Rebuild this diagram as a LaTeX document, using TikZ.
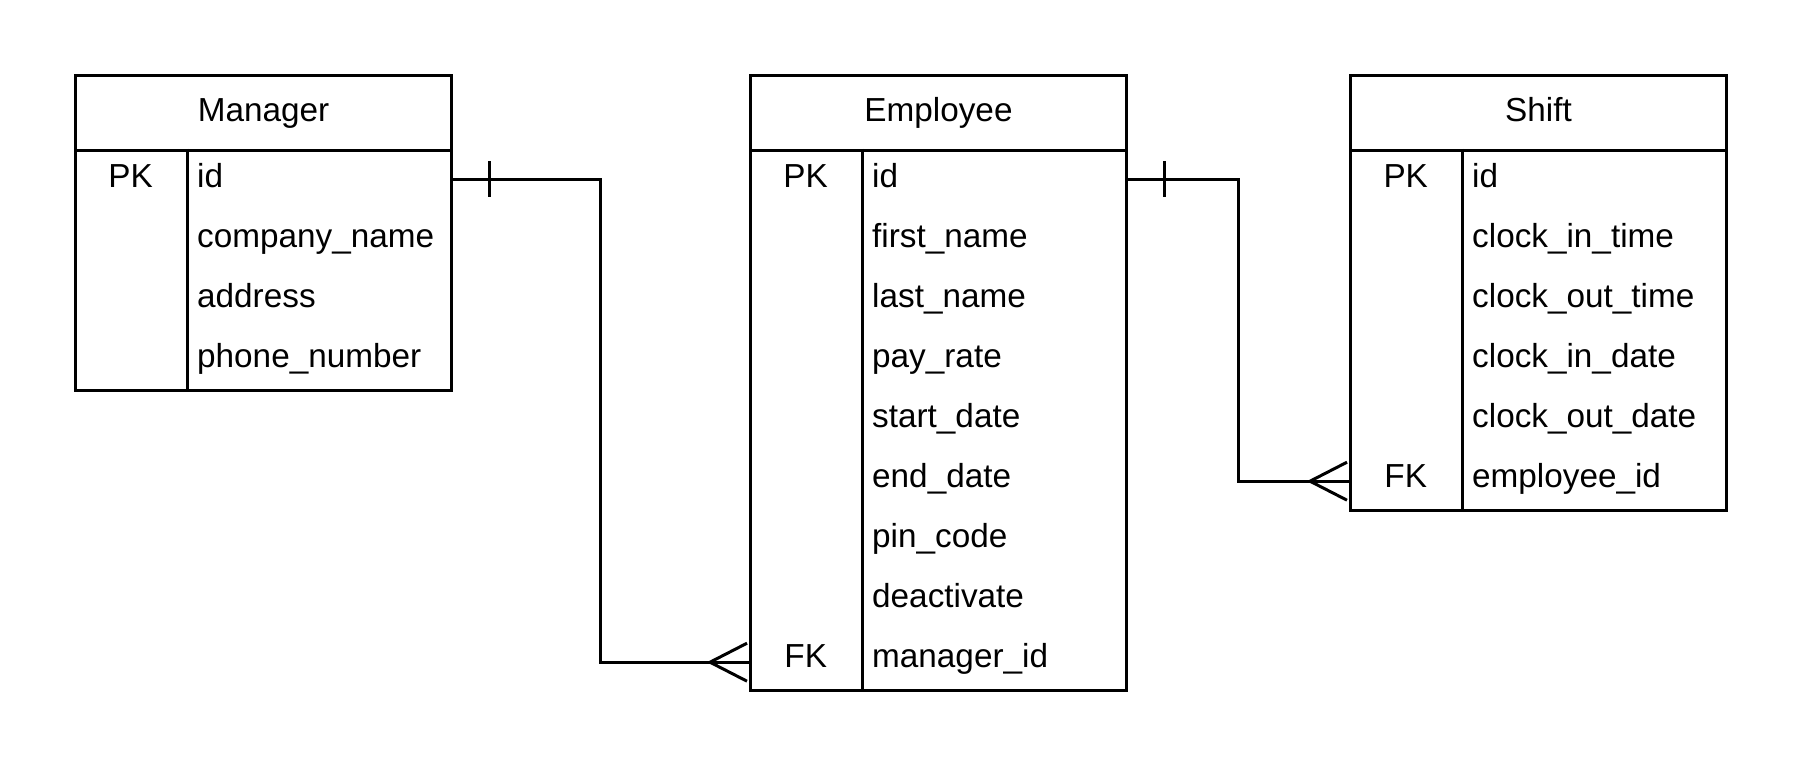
\documentclass[tikz,border=0pt]{standalone}
\usepackage{fontspec}
\setmainfont{Liberation Sans}
\newcommand\erfont{\fontsize{33.3}{40}\selectfont}
\begin{document}
\begin{tikzpicture}[x=1pt,y=-1pt,
  tbl/.style={draw, line width=3pt, minimum width=376pt, anchor=north west, inner sep=0pt, text height=25pt, text depth=7pt, font=\erfont},
  fld/.style={anchor=north west, minimum height=60pt, text width=243pt, inner xsep=10pt, inner ysep=0pt, align=left, text height=25pt, text depth=8pt, font=\erfont},
  keycell/.style={anchor=north west, minimum height=60pt, minimum width=113pt, inner sep=0pt, text height=25pt, text depth=8pt, font=\erfont},
  rel/.style={draw, line width=3pt}]
\useasboundingbox (0,0) rectangle (1800,765);

% Manager
\node[tbl, minimum height=75pt] (mgr-h) at (74,74) {Manager};
\node[tbl, minimum height=240pt] (mgr-b) at (74,149) {};
\draw[line width=3pt] ([xshift=113pt]mgr-b.north west) -- ([xshift=113pt]mgr-b.south west);
\foreach \t [count=\i] in {id,company\_name,address,phone\_number}
  \node[fld] (mgr-f\i) at (187,{149+60*(\i-1)}) {\t};
\node[keycell] (mgr-k1) at (74,149) {PK};

% Employee
\node[tbl, minimum height=75pt] (emp-h) at (749,74) {Employee};
\node[tbl, minimum height=540pt] (emp-b) at (749,149) {};
\draw[line width=3pt] ([xshift=113pt]emp-b.north west) -- ([xshift=113pt]emp-b.south west);
\foreach \t [count=\i] in {id,first\_name,last\_name,pay\_rate,start\_date,end\_date,pin\_code,deactivate,manager\_id}
  \node[fld] (emp-f\i) at (862,{149+60*(\i-1)}) {\t};
\node[keycell] (emp-k1) at (749,149) {PK};
\node[keycell] (emp-k9) at (749,629) {FK};

% Shift
\node[tbl, minimum height=75pt] (sh-h) at (1349,74) {Shift};
\node[tbl, minimum height=360pt] (sh-b) at (1349,149) {};
\draw[line width=3pt] ([xshift=113pt]sh-b.north west) -- ([xshift=113pt]sh-b.south west);
\foreach \t [count=\i] in {id,clock\_in\_time,clock\_out\_time,clock\_in\_date,clock\_out\_date,employee\_id}
  \node[fld] (sh-f\i) at (1462,{149+60*(\i-1)}) {\t};
\node[keycell] (sh-k1) at (1349,149) {PK};
\node[keycell] (sh-k6) at (1349,449) {FK};

% Manager -> Employee (one to many)
\draw[rel] (mgr-f1.east) -- ++(150,0) |- ([yshift=-3pt]emp-k9.west);
\draw[rel] ([xshift=39pt]mgr-f1.east) ++(0,-18) -- ++(0,36);
\draw[rel] ([yshift=-3pt]emp-k9.west) ++(-2,-19) -- ++(-37,19) -- ++(37,19);

% Employee -> Shift (one to many)
\draw[rel] (emp-f1.east) -- ++(113,0) |- ([yshift=-2pt]sh-k6.west);
\draw[rel] ([xshift=39pt]emp-f1.east) ++(0,-18) -- ++(0,36);
\draw[rel] ([yshift=-2pt]sh-k6.west) ++(-2,-19) -- ++(-37,19) -- ++(37,19);
\end{tikzpicture}
\end{document}
